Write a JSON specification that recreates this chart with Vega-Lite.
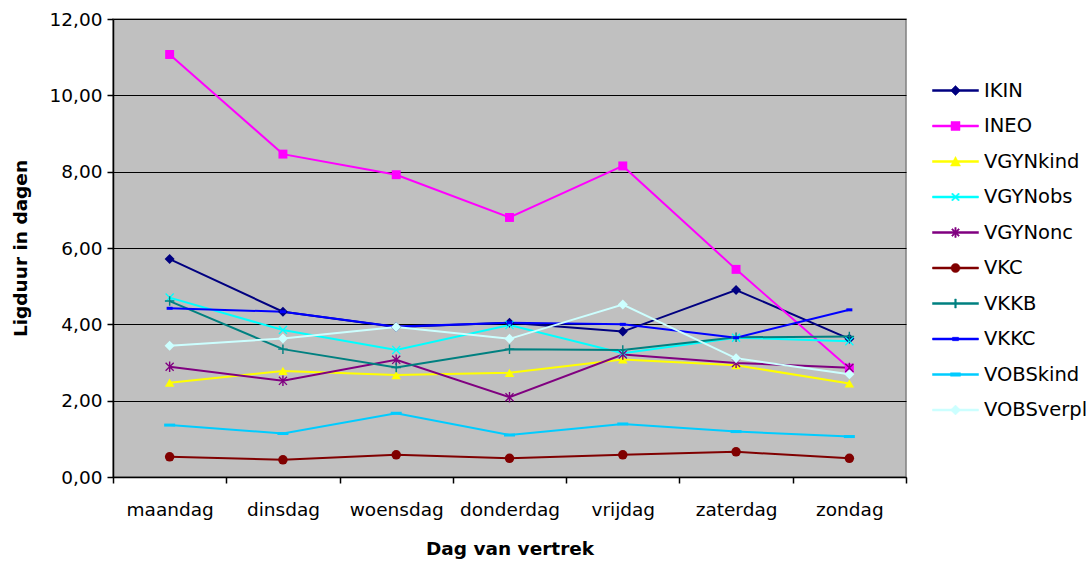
{
  "$schema": "https://vega.github.io/schema/vega-lite/v6.json",
  "width": 793,
  "height": 458,
  "autosize": "none",
  "padding": {"left": 113, "top": 19, "right": 186, "bottom": 84},
  "background": "white",
  "config": {
    "font": "DejaVu Sans",
    "view": {"fill": "#C0C0C0", "stroke": "#808080", "strokeWidth": 1.5}
  },
  "datasets": {
    "ligduur": [
      {"dag": "maandag", "serie": "IKIN", "waarde": 5.71},
      {"dag": "dinsdag", "serie": "IKIN", "waarde": 4.33},
      {"dag": "woensdag", "serie": "IKIN", "waarde": 3.93},
      {"dag": "donderdag", "serie": "IKIN", "waarde": 4.04},
      {"dag": "vrijdag", "serie": "IKIN", "waarde": 3.81},
      {"dag": "zaterdag", "serie": "IKIN", "waarde": 4.90},
      {"dag": "zondag", "serie": "IKIN", "waarde": 3.62},
      {"dag": "maandag", "serie": "INEO", "waarde": 11.07},
      {"dag": "dinsdag", "serie": "INEO", "waarde": 8.46},
      {"dag": "woensdag", "serie": "INEO", "waarde": 7.92},
      {"dag": "donderdag", "serie": "INEO", "waarde": 6.80},
      {"dag": "vrijdag", "serie": "INEO", "waarde": 8.15},
      {"dag": "zaterdag", "serie": "INEO", "waarde": 5.44},
      {"dag": "zondag", "serie": "INEO", "waarde": 2.85},
      {"dag": "maandag", "serie": "VGYNkind", "waarde": 2.47},
      {"dag": "dinsdag", "serie": "VGYNkind", "waarde": 2.78},
      {"dag": "woensdag", "serie": "VGYNkind", "waarde": 2.67},
      {"dag": "donderdag", "serie": "VGYNkind", "waarde": 2.73},
      {"dag": "vrijdag", "serie": "VGYNkind", "waarde": 3.08},
      {"dag": "zaterdag", "serie": "VGYNkind", "waarde": 2.93},
      {"dag": "zondag", "serie": "VGYNkind", "waarde": 2.45},
      {"dag": "maandag", "serie": "VGYNobs", "waarde": 4.70},
      {"dag": "dinsdag", "serie": "VGYNobs", "waarde": 3.85},
      {"dag": "woensdag", "serie": "VGYNobs", "waarde": 3.33},
      {"dag": "donderdag", "serie": "VGYNobs", "waarde": 3.98},
      {"dag": "vrijdag", "serie": "VGYNobs", "waarde": 3.24},
      {"dag": "zaterdag", "serie": "VGYNobs", "waarde": 3.65},
      {"dag": "zondag", "serie": "VGYNobs", "waarde": 3.56},
      {"dag": "maandag", "serie": "VGYNonc", "waarde": 2.89},
      {"dag": "dinsdag", "serie": "VGYNonc", "waarde": 2.52},
      {"dag": "woensdag", "serie": "VGYNonc", "waarde": 3.07},
      {"dag": "donderdag", "serie": "VGYNonc", "waarde": 2.09},
      {"dag": "vrijdag", "serie": "VGYNonc", "waarde": 3.21},
      {"dag": "zaterdag", "serie": "VGYNonc", "waarde": 2.99},
      {"dag": "zondag", "serie": "VGYNonc", "waarde": 2.86},
      {"dag": "maandag", "serie": "VKC", "waarde": 0.53},
      {"dag": "dinsdag", "serie": "VKC", "waarde": 0.45},
      {"dag": "woensdag", "serie": "VKC", "waarde": 0.58},
      {"dag": "donderdag", "serie": "VKC", "waarde": 0.49},
      {"dag": "vrijdag", "serie": "VKC", "waarde": 0.58},
      {"dag": "zaterdag", "serie": "VKC", "waarde": 0.66},
      {"dag": "zondag", "serie": "VKC", "waarde": 0.49},
      {"dag": "maandag", "serie": "VKKB", "waarde": 4.61},
      {"dag": "dinsdag", "serie": "VKKB", "waarde": 3.35},
      {"dag": "woensdag", "serie": "VKKB", "waarde": 2.87},
      {"dag": "donderdag", "serie": "VKKB", "waarde": 3.35},
      {"dag": "vrijdag", "serie": "VKKB", "waarde": 3.33},
      {"dag": "zaterdag", "serie": "VKKB", "waarde": 3.66},
      {"dag": "zondag", "serie": "VKKB", "waarde": 3.68},
      {"dag": "maandag", "serie": "VKKC", "waarde": 4.42},
      {"dag": "dinsdag", "serie": "VKKC", "waarde": 4.33},
      {"dag": "woensdag", "serie": "VKKC", "waarde": 3.94},
      {"dag": "donderdag", "serie": "VKKC", "waarde": 4.04},
      {"dag": "vrijdag", "serie": "VKKC", "waarde": 4.00},
      {"dag": "zaterdag", "serie": "VKKC", "waarde": 3.65},
      {"dag": "zondag", "serie": "VKKC", "waarde": 4.38},
      {"dag": "maandag", "serie": "VOBSkind", "waarde": 1.36},
      {"dag": "dinsdag", "serie": "VOBSkind", "waarde": 1.14},
      {"dag": "woensdag", "serie": "VOBSkind", "waarde": 1.67},
      {"dag": "donderdag", "serie": "VOBSkind", "waarde": 1.10},
      {"dag": "vrijdag", "serie": "VOBSkind", "waarde": 1.39},
      {"dag": "zaterdag", "serie": "VOBSkind", "waarde": 1.19},
      {"dag": "zondag", "serie": "VOBSkind", "waarde": 1.06},
      {"dag": "maandag", "serie": "VOBSverpl", "waarde": 3.44},
      {"dag": "dinsdag", "serie": "VOBSverpl", "waarde": 3.63},
      {"dag": "woensdag", "serie": "VOBSverpl", "waarde": 3.93},
      {"dag": "donderdag", "serie": "VOBSverpl", "waarde": 3.62},
      {"dag": "vrijdag", "serie": "VOBSverpl", "waarde": 4.52},
      {"dag": "zaterdag", "serie": "VOBSverpl", "waarde": 3.11},
      {"dag": "zondag", "serie": "VOBSverpl", "waarde": 2.69}
    ]
  },
  "data": {"name": "ligduur"},
  "encoding": {
    "x": {
      "field": "dag",
      "type": "nominal",
      "sort": ["maandag", "dinsdag", "woensdag", "donderdag", "vrijdag", "zaterdag", "zondag"],
      "scale": {"type": "band", "paddingInner": 0, "paddingOuter": 0},
      "axis": {
        "title": "Dag van vertrek",
        "labelAngle": 0,
        "tickBand": "extent",
        "grid": false,
        "domainColor": "black",
        "domainWidth": 1.5,
        "tickColor": "black",
        "tickWidth": 1.5,
        "tickSize": 6,
        "labelFont": "DejaVu Sans",
        "labelFontSize": 18.5,
        "labelColor": "black",
        "labelPadding": 17,
        "titleFont": "DejaVu Sans",
        "titleFontSize": 18.5,
        "titleFontWeight": "bold",
        "titleColor": "black",
        "titleX": 396.5,
        "titleY": 77,
        "titleBaseline": "alphabetic",
        "titleAlign": "center"
      }
    },
    "y": {
      "field": "waarde",
      "type": "quantitative",
      "scale": {"domain": [0, 12], "nice": false, "zero": true},
      "axis": {
        "title": "Ligduur in dagen",
        "values": [0, 2, 4, 6, 8, 10, 12],
        "labelExpr": "replace(format(datum.value, '.2f'), '.', ',')",
        "grid": true,
        "gridColor": "black",
        "gridWidth": 1.2,
        "gridOpacity": 1,
        "domainColor": "black",
        "domainWidth": 1.5,
        "tickColor": "black",
        "tickWidth": 1.5,
        "tickSize": 6,
        "labelFont": "DejaVu Sans",
        "labelFontSize": 18.5,
        "labelColor": "black",
        "labelPadding": 5,
        "titleFont": "DejaVu Sans",
        "titleFontSize": 18.5,
        "titleFontWeight": "bold",
        "titleColor": "black",
        "titleX": -93,
        "titleY": 229,
        "titleAngle": 270,
        "titleBaseline": "middle",
        "titleAlign": "center"
      }
    },
    "color": {
      "field": "serie",
      "type": "nominal",
      "scale": {
        "domain": ["IKIN", "INEO", "VGYNkind", "VGYNobs", "VGYNonc", "VKC", "VKKB", "VKKC", "VOBSkind", "VOBSverpl"],
        "range": ["#000080", "#FF00FF", "#FFFF00", "#00FFFF", "#800080", "#800000", "#008080", "#0000FF", "#00CCFF", "#CCFFFF"]
      },
      "legend": {
        "title": null,
        "orient": "none",
        "legendX": 832,
        "legendY": 61,
        "padding": 0,
        "symbolSize": 400,
        "symbolStrokeWidth": 0.5,
        "labelFont": "DejaVu Sans",
        "labelFontSize": 19.5,
        "labelColor": "black",
        "labelOffset": 18,
        "rowPadding": 15.5
      }
    }
  },
  "layer": [
    {
      "mark": {"type": "line", "strokeWidth": 2}
    },
    {
      "transform": [{"filter": "datum.serie === 'IKIN'"}],
      "mark": {"type": "point", "filled": true, "opacity": 1, "size": 100, "shape": "diamond"}
    },
    {
      "transform": [{"filter": "datum.serie === 'INEO'"}],
      "mark": {"type": "point", "filled": true, "opacity": 1, "size": 80, "shape": "square"}
    },
    {
      "transform": [{"filter": "datum.serie === 'VGYNkind'"}],
      "mark": {"type": "point", "filled": true, "opacity": 1, "size": 90, "shape": "triangle-up"}
    },
    {
      "transform": [{"filter": "datum.serie === 'VGYNobs'"}],
      "mark": {"type": "point", "filled": true, "opacity": 1, "size": 90, "shape": "M-0.95,-0.75L-0.75,-0.95L0.95,0.75L0.75,0.95Z M-0.95,0.75L0.75,-0.95L0.95,-0.75L-0.75,0.95Z"}
    },
    {
      "transform": [{"filter": "datum.serie === 'VGYNonc'"}],
      "mark": {"type": "point", "filled": true, "opacity": 1, "size": 90, "shape": "M-0.95,-0.75L-0.75,-0.95L0.95,0.75L0.75,0.95Z M-0.95,0.75L0.75,-0.95L0.95,-0.75L-0.75,0.95Z M-0.15,-1.1H0.15V1.1H-0.15Z"}
    },
    {
      "transform": [{"filter": "datum.serie === 'VKC'"}],
      "mark": {"type": "point", "filled": true, "opacity": 1, "size": 90, "shape": "circle"}
    },
    {
      "transform": [{"filter": "datum.serie === 'VKKB'"}],
      "mark": {"type": "point", "filled": true, "opacity": 1, "size": 90, "shape": "M-0.15,-1H0.15V-0.15H1V0.15H0.15V1H-0.15V0.15H-1V-0.15H-0.15Z"}
    },
    {
      "transform": [{"filter": "datum.serie === 'VKKC'"}],
      "mark": {"type": "point", "filled": true, "opacity": 1, "size": 100, "shape": "M-0.6,-0.3H0.6V0.3H-0.6Z"}
    },
    {
      "transform": [{"filter": "datum.serie === 'VOBSkind'"}],
      "mark": {"type": "point", "filled": true, "opacity": 1, "size": 100, "shape": "M-1.1,-0.3H1.1V0.3H-1.1Z"}
    },
    {
      "transform": [{"filter": "datum.serie === 'VOBSverpl'"}],
      "mark": {"type": "point", "filled": true, "opacity": 1, "size": 100, "shape": "diamond"}
    },
    {
      "transform": [{"filter": "false"}],
      "mark": {"type": "point", "filled": true, "opacity": 1},
      "encoding": {
        "shape": {
          "field": "serie",
          "type": "nominal",
          "scale": {
            "domain": ["IKIN", "INEO", "VGYNkind", "VGYNobs", "VGYNonc", "VKC", "VKKB", "VKKC", "VOBSkind", "VOBSverpl"],
            "range": [
              "M-2.3,-0.1H2.3V0.1H-2.3Z M0,-0.5L0.5,0L0,0.5L-0.5,0Z",
              "M-2.3,-0.1H2.3V0.1H-2.3Z M-0.45,-0.45H0.45V0.45H-0.45Z",
              "M-2.3,-0.1H2.3V0.1H-2.3Z M0,-0.5L0.5,0.45H-0.5Z",
              "M-2.3,-0.1H2.3V0.1H-2.3Z M-0.4,-0.3L-0.3,-0.4L0.4,0.3L0.3,0.4Z M-0.4,0.3L0.3,-0.4L0.4,-0.3L-0.3,0.4Z",
              "M-2.3,-0.1H2.3V0.1H-2.3Z M-0.4,-0.3L-0.3,-0.4L0.4,0.3L0.3,0.4Z M-0.4,0.3L0.3,-0.4L0.4,-0.3L-0.3,0.4Z M-0.07,-0.5H0.07V0.5H-0.07Z",
              "M-2.3,-0.1H2.3V0.1H-2.3Z M-0.45,0A0.45,0.45 0 1,1 0.45,0A0.45,0.45 0 1,1 -0.45,0Z",
              "M-2.3,-0.1H2.3V0.1H-2.3Z M-0.08,-0.45H0.08V0.45H-0.08Z",
              "M-2.3,-0.1H2.3V0.1H-2.3Z M-0.3,-0.17H0.3V0.17H-0.3Z",
              "M-2.3,-0.1H2.3V0.1H-2.3Z M-0.5,-0.17H0.5V0.17H-0.5Z",
              "M-2.3,-0.1H2.3V0.1H-2.3Z M0,-0.5L0.5,0L0,0.5L-0.5,0Z"
            ]
          }
        }
      }
    }
  ]
}
